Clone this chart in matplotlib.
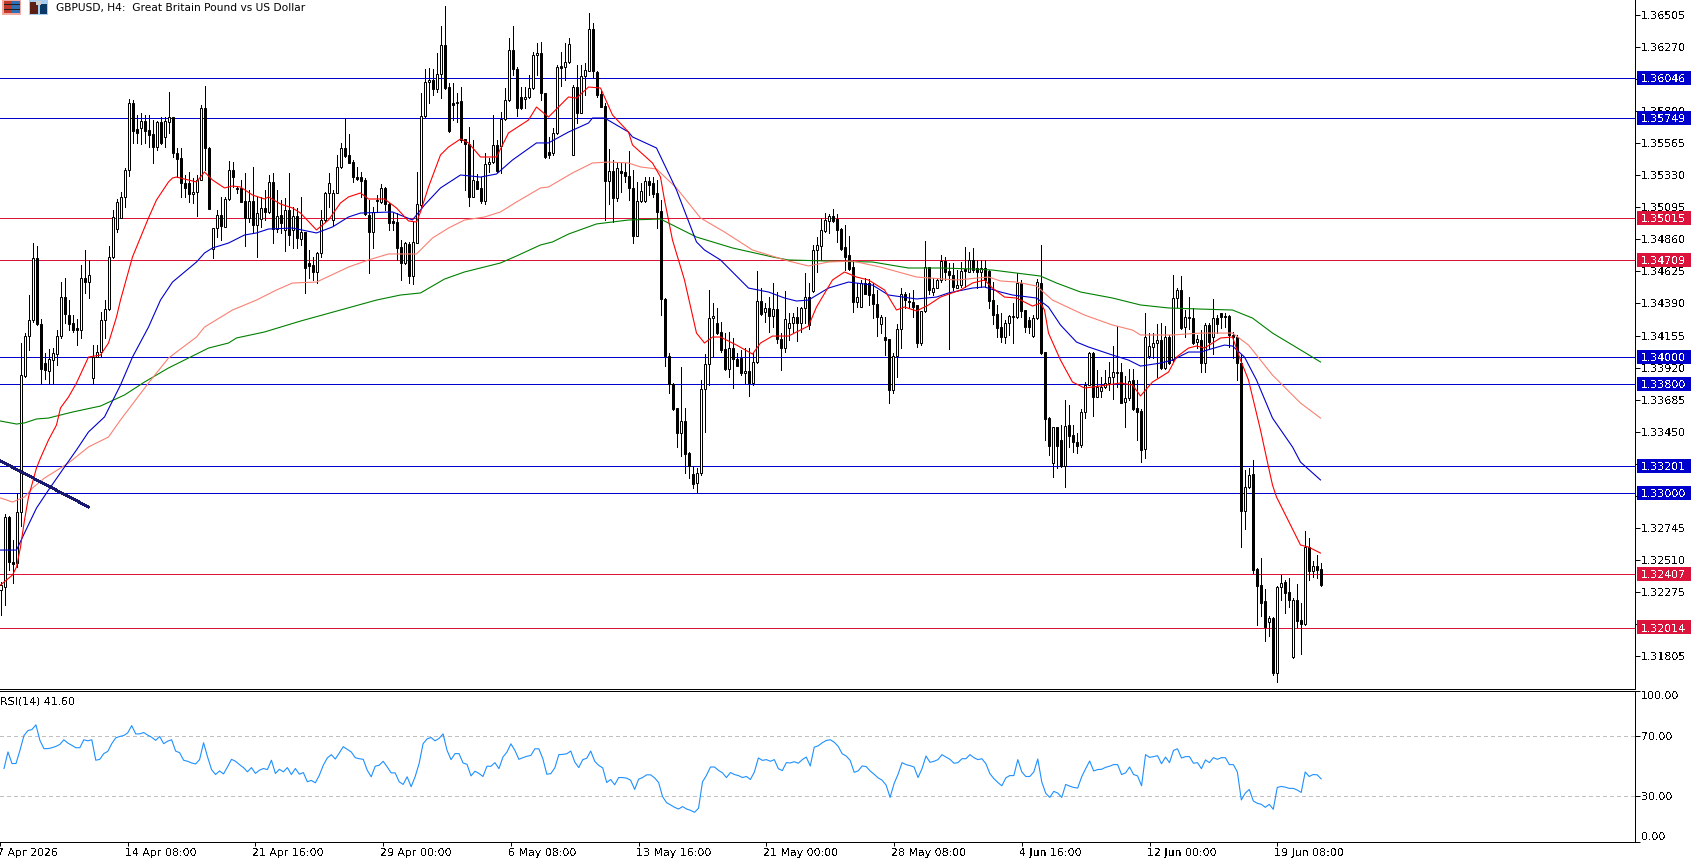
import matplotlib
matplotlib.use('Agg')
import matplotlib.pyplot as plt
from matplotlib.patches import Rectangle
from matplotlib.transforms import ScaledTranslation
import numpy as np

plt.rcParams['font.family'] = 'DejaVu Sans'
plt.rcParams['text.antialiased'] = False

# GBPUSD H4 candles, oldest first
opens = [1.32289,1.32311,1.32824,1.32494,1.32487,1.32861,1.33858,1.34151,1.34269,1.34723,1.34239,1.33953,1.33895,1.33975,1.34019,1.34151,1.34437,1.34305,1.34247,1.34210,1.34195,1.34577,1.34547,1.33844,1.33997,1.34034,1.34269,1.34349,1.34731,1.34936,1.35017,1.35171,1.35369,1.35860,1.35669,1.35677,1.35728,1.35662,1.35633,1.35537,1.35720,1.35611,1.35720,1.35757,1.35493,1.35457,1.35273,1.35273,1.35193,1.35207,1.35295,1.35823,1.35530,1.34789,1.34943,1.35039,1.34951,1.35156,1.35369,1.35237,1.35237,1.35141,1.35017,1.35141,1.34965,1.35009,1.35090,1.35061,1.35281,1.34936,1.35039,1.34929,1.35075,1.34929,1.35031,1.34863,1.34914,1.34687,1.34672,1.34621,1.34760,1.35002,1.35200,1.35002,1.35200,1.35391,1.35530,1.35479,1.35427,1.35317,1.35317,1.35295,1.35039,1.34914,1.35149,1.35134,1.35237,1.35119,1.34995,1.34987,1.34804,1.34687,1.34826,1.34591,1.34833,1.35112,1.35765,1.36014,1.36028,1.35962,1.36072,1.36285,1.35977,1.35860,1.35860,1.35874,1.35596,1.35559,1.35171,1.35288,1.35237,1.35141,1.35413,1.35427,1.35552,1.35545,1.35742,1.35882,1.36248,1.36109,1.35904,1.35889,1.35904,1.35970,1.36212,1.36226,1.35933,1.35501,1.35493,1.35640,1.36131,1.36124,1.36160,1.35479,1.35977,1.35786,1.36058,1.36094,1.36402,1.36087,1.35926,1.35838,1.35288,1.35361,1.35163,1.35361,1.35354,1.35325,1.35237,1.34885,1.35141,1.35141,1.35288,1.35273,1.35200,1.35068,1.34423,1.34005,1.33799,1.33624,1.33440,1.33528,1.33294,1.33140,1.33074,1.33147,1.33763,1.33946,1.34283,1.34247,1.34181,1.34056,1.33909,1.34063,1.33983,1.33990,1.33880,1.33895,1.33807,1.33961,1.34408,1.34327,1.34357,1.34298,1.34349,1.34129,1.34063,1.34210,1.34247,1.34291,1.34247,1.34357,1.34437,1.34481,1.34782,1.34811,1.34921,1.34995,1.35031,1.35009,1.34936,1.34804,1.34745,1.34657,1.34401,1.34364,1.34540,1.34540,1.34459,1.34386,1.34239,1.34144,1.34129,1.33756,1.34005,1.34203,1.34459,1.34408,1.34401,1.34379,1.34100,1.34335,1.34657,1.34474,1.34503,1.34562,1.34701,1.34628,1.34599,1.34503,1.34525,1.34643,1.34621,1.34709,1.34650,1.34621,1.34650,1.34628,1.34415,1.34313,1.34217,1.34144,1.34247,1.34298,1.34291,1.34540,1.34342,1.34269,1.34151,1.34283,1.34540,1.34034,1.33550,1.33220,1.33484,1.33389,1.33198,1.33499,1.33426,1.33374,1.33352,1.33594,1.33792,1.34027,1.33704,1.33748,1.33777,1.33807,1.33851,1.33880,1.33887,1.33668,1.33697,1.33829,1.33624,1.33602,1.33323,1.34005,1.34071,1.34100,1.34122,1.33917,1.34144,1.33975,1.34430,1.34489,1.34217,1.34291,1.34283,1.34107,1.34122,1.33953,1.34232,1.34144,1.34283,1.34320,1.34298,1.34298,1.34159,1.34144,1.33953,1.32868,1.33044,1.33140,1.32443,1.32326,1.32208,1.32054,1.32084,1.31681,1.32311,1.32348,1.32274,1.31798,1.32216,1.32069,1.32040,1.32604,1.32428,1.32465,1.32443]
highs = [1.32348,1.32846,1.32832,1.32656,1.33000,1.34100,1.34173,1.34452,1.34833,1.34811,1.34276,1.34027,1.34056,1.34063,1.34195,1.34547,1.34577,1.34415,1.34305,1.34276,1.34672,1.34782,1.34709,1.34085,1.34085,1.34327,1.34415,1.34811,1.35075,1.35156,1.35207,1.35383,1.35889,1.35882,1.35772,1.35786,1.35772,1.35772,1.35735,1.35728,1.35757,1.35757,1.35940,1.35757,1.35530,1.35530,1.35332,1.35354,1.35310,1.35332,1.35845,1.35984,1.35537,1.34943,1.35075,1.35171,1.35171,1.35435,1.35427,1.35251,1.35295,1.35347,1.35222,1.35391,1.35171,1.35171,1.35222,1.35332,1.35347,1.35222,1.35149,1.35163,1.35347,1.35097,1.35090,1.35171,1.34914,1.34782,1.34731,1.34767,1.35075,1.35207,1.35347,1.35222,1.35479,1.35567,1.35750,1.35633,1.35442,1.35391,1.35354,1.35310,1.35149,1.35097,1.35185,1.35266,1.35244,1.35127,1.35053,1.35053,1.34855,1.34841,1.34841,1.34987,1.35354,1.35933,1.36109,1.36116,1.36109,1.36226,1.36424,1.36571,1.36006,1.36006,1.35933,1.35977,1.35596,1.35684,1.35589,1.35339,1.35317,1.35493,1.35457,1.35772,1.35589,1.35794,1.35970,1.36336,1.36424,1.36124,1.35977,1.35977,1.36065,1.36234,1.36300,1.36307,1.35933,1.35611,1.35677,1.36138,1.36234,1.36300,1.36336,1.35992,1.36138,1.36138,1.36153,1.36520,1.36446,1.36094,1.35955,1.35860,1.35523,1.35442,1.35427,1.35420,1.35420,1.35508,1.35369,1.35281,1.35273,1.35317,1.35317,1.35317,1.35295,1.35149,1.34430,1.34027,1.33807,1.33624,1.33924,1.33624,1.33301,1.33198,1.33184,1.33829,1.34019,1.34489,1.34393,1.34357,1.34254,1.34173,1.34181,1.34137,1.34027,1.34049,1.34063,1.34063,1.34027,1.34628,1.34503,1.34393,1.34437,1.34540,1.34474,1.34173,1.34481,1.34320,1.34320,1.34364,1.34364,1.34613,1.34540,1.34819,1.34877,1.35017,1.35053,1.35046,1.35083,1.35046,1.34943,1.34965,1.34885,1.34709,1.34540,1.34562,1.34577,1.34569,1.34540,1.34489,1.34305,1.34291,1.34129,1.34027,1.34239,1.34503,1.34474,1.34467,1.34489,1.34379,1.34335,1.34848,1.34657,1.34577,1.34577,1.34745,1.34731,1.34687,1.34687,1.34635,1.34694,1.34804,1.34767,1.34797,1.34709,1.34709,1.34709,1.34635,1.34547,1.34379,1.34320,1.34269,1.34305,1.34393,1.34613,1.34562,1.34342,1.34291,1.34305,1.34569,1.34819,1.34034,1.33558,1.33484,1.33484,1.33499,1.33682,1.33646,1.33499,1.33440,1.33616,1.33814,1.34034,1.34034,1.33902,1.33851,1.33902,1.33961,1.34078,1.34225,1.33954,1.33858,1.33910,1.33910,1.33829,1.33616,1.34320,1.34173,1.34173,1.34239,1.34247,1.34225,1.34159,1.34599,1.34503,1.34591,1.34342,1.34437,1.34357,1.34159,1.34195,1.34247,1.34247,1.34423,1.34305,1.34320,1.34320,1.34305,1.34181,1.34159,1.34012,1.33169,1.33184,1.33242,1.32451,1.32524,1.32296,1.32098,1.32091,1.32318,1.32399,1.32362,1.32377,1.32230,1.32333,1.32194,1.32722,1.32670,1.32502,1.32546,1.32487]
lows = [1.32106,1.32179,1.32436,1.32340,1.32458,1.32758,1.33851,1.34049,1.34254,1.34232,1.33799,1.33836,1.33799,1.33799,1.33939,1.34137,1.34247,1.34195,1.34181,1.34085,1.34137,1.34467,1.34430,1.33799,1.33997,1.33997,1.34137,1.34342,1.34723,1.34914,1.35017,1.35097,1.35325,1.35567,1.35567,1.35559,1.35567,1.35537,1.35420,1.35515,1.35559,1.35537,1.35640,1.35464,1.35317,1.35171,1.35171,1.35134,1.35127,1.35031,1.35295,1.35369,1.35083,1.34723,1.34877,1.34855,1.34951,1.35149,1.35244,1.35200,1.35134,1.34811,1.34987,1.34907,1.34731,1.34951,1.35002,1.35053,1.34833,1.34914,1.34907,1.34775,1.34819,1.34797,1.34797,1.34819,1.34467,1.34577,1.34562,1.34540,1.34731,1.34987,1.35097,1.34965,1.35200,1.35383,1.35464,1.35420,1.35281,1.35295,1.35171,1.35039,1.34613,1.34797,1.35068,1.35127,1.35075,1.34929,1.34929,1.34709,1.34562,1.34679,1.34540,1.34533,1.34833,1.35097,1.35757,1.35860,1.35918,1.35940,1.35896,1.35962,1.35647,1.35735,1.35720,1.35574,1.35222,1.35105,1.35171,1.35229,1.35127,1.35119,1.35354,1.35420,1.35354,1.35347,1.35735,1.35874,1.36065,1.35765,1.35816,1.35823,1.35896,1.35962,1.36065,1.35882,1.35457,1.35457,1.35479,1.35633,1.35984,1.36028,1.36153,1.35479,1.35713,1.35786,1.35918,1.36094,1.36050,1.35904,1.35830,1.35002,1.35119,1.34987,1.35141,1.35207,1.35281,1.35149,1.34833,1.34885,1.35134,1.35134,1.35185,1.35171,1.34943,1.34305,1.33931,1.33733,1.33609,1.33338,1.33272,1.33147,1.33110,1.33037,1.33008,1.33132,1.33448,1.33792,1.33997,1.34166,1.34034,1.33902,1.33851,1.33770,1.33931,1.33865,1.33807,1.33711,1.33792,1.33954,1.34305,1.34254,1.34181,1.34217,1.34100,1.33902,1.34034,1.34122,1.34181,1.34115,1.34181,1.34247,1.34203,1.34474,1.34621,1.34709,1.34914,1.34907,1.34987,1.34841,1.34782,1.34635,1.34635,1.34327,1.34364,1.34364,1.34459,1.34379,1.34283,1.34151,1.34173,1.34012,1.33660,1.33733,1.33851,1.34063,1.34357,1.34364,1.34291,1.34071,1.34085,1.34327,1.34459,1.34452,1.34503,1.34547,1.34562,1.34056,1.34489,1.34503,1.34511,1.34511,1.34621,1.34621,1.34503,1.34511,1.34511,1.34357,1.34239,1.34144,1.34107,1.34100,1.34159,1.34100,1.34283,1.34291,1.34181,1.34173,1.34144,1.34276,1.34019,1.33389,1.33279,1.33118,1.33184,1.33191,1.33044,1.33338,1.33301,1.33294,1.33338,1.33550,1.33792,1.33565,1.33704,1.33704,1.33770,1.33755,1.33689,1.33777,1.33660,1.33484,1.33682,1.33609,1.33389,1.33228,1.33257,1.33990,1.33990,1.33851,1.33910,1.33910,1.33946,1.33961,1.34364,1.34203,1.34144,1.34203,1.34093,1.34063,1.33887,1.33887,1.34063,1.34019,1.34173,1.34210,1.34217,1.34071,1.33990,1.33829,1.32604,1.32736,1.33037,1.32414,1.32033,1.32098,1.31915,1.31952,1.31666,1.31615,1.32216,1.32120,1.32164,1.31790,1.32018,1.31820,1.32033,1.32362,1.32384,1.32377,1.32318]
closes = [1.32326,1.32824,1.32494,1.32480,1.32861,1.33865,1.34151,1.34269,1.34723,1.34239,1.33909,1.33902,1.33983,1.34027,1.34151,1.34437,1.34313,1.34239,1.34195,1.34195,1.34577,1.34547,1.34599,1.33997,1.34034,1.34269,1.34349,1.34731,1.35024,1.35134,1.35171,1.35369,1.35860,1.35655,1.35640,1.35728,1.35655,1.35625,1.35537,1.35720,1.35567,1.35728,1.35757,1.35493,1.35449,1.35273,1.35237,1.35193,1.35207,1.35295,1.35823,1.35530,1.35083,1.34943,1.35039,1.34958,1.35156,1.35369,1.35317,1.35229,1.35134,1.35017,1.35141,1.34965,1.35053,1.35090,1.35061,1.35281,1.34936,1.35031,1.34980,1.35075,1.34892,1.35031,1.34870,1.34914,1.34650,1.34665,1.34621,1.34760,1.35002,1.35200,1.35273,1.35200,1.35391,1.35530,1.35471,1.35420,1.35317,1.35303,1.35288,1.35046,1.34914,1.35061,1.35141,1.35237,1.35119,1.34980,1.34980,1.34797,1.34687,1.34833,1.34591,1.34841,1.35119,1.35765,1.36014,1.36028,1.35962,1.36072,1.36285,1.35970,1.35655,1.35845,1.35867,1.35589,1.35559,1.35171,1.35295,1.35229,1.35141,1.35413,1.35427,1.35552,1.35361,1.35742,1.35882,1.36248,1.36109,1.35823,1.35823,1.35904,1.35970,1.36212,1.36226,1.35933,1.35464,1.35479,1.35640,1.36124,1.36116,1.36160,1.36292,1.35977,1.35786,1.36058,1.36102,1.36402,1.36094,1.35918,1.35830,1.35288,1.35361,1.35163,1.35383,1.35347,1.35325,1.35237,1.34885,1.35141,1.35215,1.35288,1.35259,1.35193,1.35061,1.34423,1.34005,1.33799,1.33616,1.33440,1.33528,1.33286,1.33198,1.33066,1.33147,1.33763,1.33946,1.34283,1.34298,1.34173,1.34049,1.33909,1.34063,1.33983,1.33931,1.33880,1.33895,1.33807,1.33961,1.34408,1.34313,1.34357,1.34298,1.34349,1.34129,1.34063,1.34276,1.34247,1.34291,1.34247,1.34357,1.34437,1.34232,1.34782,1.34819,1.34929,1.35002,1.35031,1.34995,1.34929,1.34789,1.34731,1.34643,1.34401,1.34437,1.34540,1.34459,1.34452,1.34386,1.34291,1.34291,1.34122,1.33756,1.34005,1.34203,1.34459,1.34415,1.34401,1.34364,1.34100,1.34335,1.34657,1.34489,1.34503,1.34562,1.34701,1.34621,1.34599,1.34511,1.34525,1.34628,1.34628,1.34709,1.34635,1.34621,1.34650,1.34562,1.34408,1.34305,1.34210,1.34144,1.34247,1.34298,1.34291,1.34540,1.34335,1.34217,1.34217,1.34283,1.34547,1.34027,1.33543,1.33345,1.33484,1.33345,1.33198,1.33492,1.33418,1.33374,1.33345,1.33594,1.33792,1.34027,1.33704,1.33777,1.33777,1.33807,1.33851,1.33887,1.33887,1.33660,1.33697,1.33822,1.33616,1.33594,1.33316,1.34144,1.34078,1.34100,1.34122,1.33917,1.34144,1.33953,1.34430,1.34489,1.34210,1.34291,1.34283,1.34100,1.34129,1.33953,1.34232,1.34107,1.34283,1.34239,1.34291,1.34291,1.34159,1.34144,1.33953,1.32868,1.33044,1.33132,1.32436,1.32318,1.32194,1.32018,1.32084,1.31681,1.32311,1.32340,1.32267,1.32216,1.32216,1.32062,1.32040,1.32604,1.32428,1.32465,1.32436,1.32326]

# moving averages, read at the bar index listed with each one
ma_red_bars = [0,3,4,5,6,7,9,10,12,14,15,17,19,22,25,27,29,30,33,37,39,42,43,44,47,49,51,53,56,58,60,63,66,67,70,73,75,79,82,85,87,90,92,96,99,102,104,105,107,110,112,115,117,120,124,127,132,134,137,142,144,147,150,153,157,158,163,165,166,168,171,174,176,178,180,184,188,190,193,197,202,204,208,211,214,217,221,224,226,229,232,235,240,243,246,248,251,254,258,260,261,262,265,268,271,275,280,283,285,288,292,294,297,299,301,305,308,310,312,315,317,318,319,325,327,330]
ma_red = [1.32326,1.32399,1.32458,1.32604,1.32802,1.32971,1.33184,1.33257,1.33389,1.33499,1.33624,1.33704,1.33807,1.33997,1.34012,1.34100,1.34291,1.34415,1.34731,1.35017,1.35149,1.35281,1.35310,1.35317,1.35295,1.35281,1.35354,1.35295,1.35237,1.35251,1.35244,1.35185,1.35156,1.35171,1.35119,1.35090,1.35053,1.34929,1.35002,1.35127,1.35171,1.35200,1.35156,1.35156,1.35090,1.34995,1.34987,1.35061,1.35244,1.35479,1.35537,1.35596,1.35567,1.35464,1.35464,1.35640,1.35735,1.35830,1.35757,1.35904,1.35896,1.35977,1.35970,1.35772,1.35647,1.35552,1.35420,1.35317,1.35149,1.34855,1.34562,1.34173,1.34100,1.34144,1.34144,1.34085,1.34019,1.34100,1.34151,1.34151,1.34225,1.34364,1.34562,1.34621,1.34584,1.34562,1.34489,1.34342,1.34364,1.34335,1.34379,1.34437,1.34489,1.34540,1.34562,1.34503,1.34437,1.34430,1.34371,1.34393,1.34342,1.34173,1.33975,1.33814,1.33770,1.33785,1.33807,1.33792,1.33712,1.33814,1.33887,1.33997,1.34063,1.34078,1.34063,1.34137,1.34144,1.33975,1.33829,1.33462,1.33191,1.33059,1.32971,1.32619,1.32604,1.32560]
ma_blue_bars = [0,4,6,9,12,16,19,22,26,30,33,37,40,43,49,51,53,57,61,64,67,73,79,83,87,90,98,103,106,110,115,120,124,128,134,137,142,147,148,151,157,158,164,169,174,176,180,187,192,196,199,202,207,212,218,222,229,234,237,243,246,250,253,259,262,265,269,272,278,282,285,290,293,297,300,306,308,311,314,318,323,325,330]
ma_blue = [1.32582,1.32582,1.32707,1.32890,1.33022,1.33191,1.33316,1.33448,1.33558,1.33792,1.33997,1.34217,1.34415,1.34547,1.34694,1.34760,1.34797,1.34833,1.34892,1.34907,1.34936,1.34943,1.34907,1.34951,1.35024,1.35053,1.35061,1.35002,1.35112,1.35237,1.35332,1.35317,1.35339,1.35442,1.35567,1.35567,1.35647,1.35713,1.35750,1.35750,1.35647,1.35611,1.35530,1.35222,1.34841,1.34782,1.34709,1.34503,1.34474,1.34430,1.34408,1.34415,1.34503,1.34547,1.34525,1.34452,1.34423,1.34437,1.34467,1.34503,1.34511,1.34474,1.34452,1.34430,1.34364,1.34232,1.34107,1.34071,1.34012,1.33975,1.33931,1.33953,1.33975,1.34034,1.34034,1.34085,1.34078,1.33997,1.33829,1.33550,1.33338,1.33227,1.33096]
ma_salmon_bars = [0,3,6,8,11,17,22,27,30,37,42,49,51,58,64,69,73,79,87,92,97,104,108,112,116,121,125,129,135,137,143,148,152,157,160,164,169,175,181,188,197,202,207,213,220,229,239,247,250,254,259,263,271,278,283,285,293,300,308,312,318,325,330]
ma_salmon = [1.32964,1.32934,1.32971,1.33037,1.33110,1.33220,1.33338,1.33411,1.33536,1.33807,1.33990,1.34144,1.34217,1.34342,1.34415,1.34489,1.34540,1.34547,1.34657,1.34709,1.34753,1.34753,1.34870,1.34943,1.35002,1.35024,1.35061,1.35134,1.35237,1.35244,1.35347,1.35420,1.35427,1.35420,1.35391,1.35376,1.35237,1.35017,1.34914,1.34782,1.34701,1.34665,1.34694,1.34701,1.34657,1.34584,1.34562,1.34584,1.34555,1.34547,1.34518,1.34415,1.34305,1.34232,1.34195,1.34159,1.34159,1.34173,1.34173,1.34085,1.33865,1.33660,1.33550]
ma_green_bars = [0,4,6,9,12,18,25,31,36,42,47,52,57,59,66,75,94,100,105,111,116,125,129,135,138,142,149,157,165,174,183,193,197,207,218,227,235,243,248,260,264,270,278,285,292,300,308,313,318,323,330]
ma_green = [1.33528,1.33506,1.33514,1.33543,1.33550,1.33594,1.33638,1.33719,1.33814,1.33917,1.33990,1.34063,1.34100,1.34137,1.34181,1.34261,1.34415,1.34452,1.34467,1.34569,1.34621,1.34687,1.34738,1.34819,1.34841,1.34899,1.34973,1.35002,1.35009,1.34877,1.34797,1.34731,1.34709,1.34701,1.34694,1.34650,1.34650,1.34643,1.34635,1.34591,1.34540,1.34474,1.34430,1.34379,1.34357,1.34349,1.34342,1.34283,1.34173,1.34085,1.33961]

rsi_values = [48.5,59.5,51.8,51.8,60.6,70.4,73.7,74.4,77.5,67.2,61.7,61.7,62.3,63.2,64.5,67.6,65.4,63.9,62.3,62.3,67.6,66.9,67.6,54.0,54.6,58.4,59.9,65.0,68.9,69.8,70.4,72.2,77.0,71.5,71.5,72.4,70.7,69.3,67.2,69.8,65.0,66.7,67.6,60.1,59.0,54.0,53.3,52.2,51.5,54.4,65.6,56.2,47.8,44.5,46.9,44.9,49.6,54.6,53.3,51.1,49.1,46.3,49.1,45.2,47.4,48.5,47.8,54.0,45.2,48.0,46.3,49.1,44.5,48.5,44.7,45.8,39.7,40.6,39.0,44.0,50.7,55.5,57.7,54.8,58.8,63.0,61.2,59.5,55.7,55.0,54.6,47.4,43.0,50.0,50.7,53.3,49.6,45.6,45.6,39.7,37.9,43.0,36.4,43.0,51.8,65.0,68.2,69.1,66.9,68.5,71.5,60.6,54.4,58.4,58.4,52.2,51.3,43.6,46.7,45.2,43.2,50.0,50.0,52.4,48.4,56.1,59.4,64.9,60.5,54.6,55.7,56.6,57.2,61.6,61.6,55.0,44.7,45.1,48.9,57.7,57.9,58.3,60.1,52.8,49.1,54.4,55.3,60.1,53.3,50.6,48.9,39.2,41.2,37.7,42.5,42.5,42.1,40.7,34.6,41.4,42.5,44.3,44.3,42.3,39.2,29.8,25.8,24.3,22.7,21.6,23.2,21.6,20.7,19.4,22.1,39.6,44.0,49.5,49.5,47.3,45.6,42.5,45.8,44.5,43.8,42.5,43.2,41.2,46.2,55.5,53.9,54.4,53.3,54.4,48.4,47.1,52.4,52.2,53.0,52.0,54.4,56.1,50.2,62.7,63.6,65.6,67.1,67.6,66.0,63.2,58.3,56.8,53.9,46.0,46.9,50.2,49.8,46.9,44.7,42.3,40.7,37.5,29.3,38.5,44.7,52.4,51.1,50.4,49.5,42.5,48.4,56.8,52.6,53.3,54.4,57.7,56.1,54.6,52.0,52.4,55.0,55.0,57.7,55.7,54.4,55.0,51.7,45.1,41.8,39.2,37.0,42.3,43.8,43.8,54.4,46.2,43.2,43.2,46.2,54.8,39.6,32.0,29.3,33.3,32.2,29.3,37.9,36.8,35.9,35.5,43.0,48.4,53.5,46.9,47.8,48.0,49.3,50.0,51.1,51.1,44.5,45.6,49.5,44.5,43.6,37.0,57.7,55.9,56.4,57.0,51.7,56.1,52.4,60.5,61.6,55.5,56.4,56.4,52.0,52.4,48.4,54.2,52.4,55.7,54.6,55.7,55.7,51.1,51.1,46.2,27.6,32.2,34.6,26.9,25.4,24.7,22.7,24.7,21.4,35.9,36.6,36.1,35.3,35.3,34.2,32.6,46.2,43.2,44.5,44.3,41.6]

level_prices = [1.36046,1.35749,1.35015,1.34709,1.34000,1.33800,1.33201,1.33000,1.32407,1.32014]
level_colors = ['#0000CD','#0000CD','#DC143C','#DC143C','#0000CD','#0000CD','#0000CD','#0000CD','#DC143C','#DC143C']

trend_bars = [0,22]
trend_prices = [1.33235,1.32898]

price_ticks = [1.36505,1.36270,1.36035,1.35800,1.35565,1.35330,1.35095,1.34860,1.34625,1.34390,1.34155,1.33920,1.33685,1.33450,1.33215,1.32980,1.32745,1.32510,1.32275,1.32040,1.31805]
# these sit wholly behind a value flag
hidden_ticks = [1.33215,1.32040,1.36035]
rsi_ticks = [100,70,30,0]
date_ticks = [-1,31,63,95,127,159,191,223,255,287,319]
date_labels = ['7 Apr 2026','14 Apr 08:00','21 Apr 16:00','29 Apr 00:00','6 May 08:00','13 May 16:00','21 May 00:00','28 May 08:00','4 Jun 16:00','12 Jun 00:00','19 Jun 08:00']

W, H = 1694, 864
FS = 7.9
PX = 0.72  # one pixel in points at dpi 100
THIN = 0.8  # curve width


def px_axes(fig, left, top, right, bottom):
    return fig.add_axes([left / W, 1 - bottom / H, (right - left) / W, (bottom - top) / H])


fig = plt.figure(figsize=(W / 100, H / 100), dpi=100, facecolor='white')
ax = px_axes(fig, 0, 0, 1634.5, 688.5)
ax_rsi = px_axes(fig, 0, 691, 1634.5, 841.5)

bars = np.arange(len(opens))
opens_a, highs_a, lows_a, closes_a = map(np.array, (opens, highs, lows, closes))
up = closes_a >= opens_a

# level lines go under the candles
for price, color in zip(level_prices, level_colors):
    ax.axhline(price, color=color, lw=PX, antialiased=False, zorder=1)

ax.vlines(bars, lows_a, highs_a, color='black', lw=PX, antialiased=False, zorder=2)
ax.bar(bars[up], (closes_a - opens_a)[up], bottom=opens_a[up], width=0.5,
       facecolor='white', edgecolor='black', lw=PX, zorder=3)
ax.bar(bars[~up], (opens_a - closes_a)[~up], bottom=closes_a[~up], width=0.5,
       facecolor='black', edgecolor='black', lw=PX, zorder=3)

ax.plot(ma_green_bars, ma_green, color='#008000', lw=THIN, zorder=4)
ax.plot(ma_salmon_bars, ma_salmon, color='#FA8072', lw=THIN, zorder=4)
ax.plot(ma_blue_bars, ma_blue, color='#0000CD', lw=THIN, zorder=4)
ax.plot(ma_red_bars, ma_red, color='#FF0000', lw=THIN, zorder=4)
ax.plot(trend_bars, trend_prices, color='#191970', lw=1.3, antialiased=False, zorder=4)

ax.set_xlim(-0.125, 408.5)
ax.set_ylim(1.31567, 1.36615)
ax.yaxis.tick_right()
ax.set_yticks(price_ticks)
ax.set_yticklabels(['' if p in hidden_ticks else f'{p:.5f}' for p in price_ticks], fontsize=FS)
ax.tick_params(axis='y', length=3.6, width=PX, pad=1)
ax.set_xticks([])

# value flags on the price scale
for price, color in zip(level_prices, level_colors):
    ax.add_patch(Rectangle((1637 / 1634.5, price - 0.00051), 54 / 1634.5, 0.00103,
                           transform=ax.get_yaxis_transform(), facecolor=color,
                           edgecolor='none', clip_on=False, zorder=6))
    ax.text(1640.5 / 1634.5, price, f'{price:.5f}', transform=ax.get_yaxis_transform(),
            color='white', fontsize=FS, va='center_baseline', ha='left', zorder=7)

ax_rsi.axhline(70, color='#C0C0C0', lw=PX, dashes=(4, 4), antialiased=False)
ax_rsi.axhline(30, color='#C0C0C0', lw=PX, dashes=(4, 4), antialiased=False)
ax_rsi.plot(bars, rsi_values, color='#1E90FF', lw=THIN)
ax_rsi.set_xlim(-0.125, 408.5)
ax_rsi.set_ylim(0, 100)
ax_rsi.yaxis.tick_right()
ax_rsi.set_yticks(rsi_ticks)
ax_rsi.set_yticklabels([f'{v:.2f}' for v in rsi_ticks], fontsize=FS)
ax_rsi.tick_params(axis='y', length=3.6, width=PX, pad=1)
for lab, v in zip(ax_rsi.get_yticklabels(), rsi_ticks):
    if v == 100:
        lab.set_va('top')
    elif v == 0:
        lab.set_va('bottom')
ax_rsi.set_xticks(date_ticks)
ax_rsi.set_xticklabels(date_labels, fontsize=FS, ha='left')
ax_rsi.tick_params(axis='x', length=3, width=PX, pad=2)
shift = ScaledTranslation(-3 / 100, 0, fig.dpi_scale_trans)
for lab in ax_rsi.get_xticklabels():
    lab.set_transform(lab.get_transform() + shift)

for a in (ax, ax_rsi):
    a.spines['left'].set_visible(False)
    a.spines['top'].set_visible(a is ax_rsi)
    for s in a.spines.values():
        s.set_linewidth(PX)

# header overlay in pixel coordinates
top = fig.add_axes([0, 0, 1, 1], facecolor='none', zorder=10)
top.set_xlim(0, W)
top.set_ylim(H, 0)
top.axis('off')
top.text(55.5, 8.5, 'GBPUSD, H4:  Great Britain Pound vs US Dollar', fontsize=7.7,
         va='center', ha='left', antialiased=True)
top.text(0, 701.5, 'RSI(14) 41.60', fontsize=FS, va='center', ha='left')
for x, y, w, h, c in [(2, 0, 19, 15, '#F4A9A0'), (4, 1, 8, 12, '#C03A2B'), (12, 1, 8, 12, '#2F6FB5'),
                      (4, 4, 16, 1, '#202020'), (4, 9, 16, 1, '#202020'),
                      (29, 0, 19, 15, '#A9CDF0'), (30, 2, 8, 12, '#5C1F16'), (40, 4, 7, 10, '#0C3A66'),
                      (36, 1, 5, 4, '#D0D0D0')]:
    top.add_patch(Rectangle((x, y), w, h, facecolor=c, edgecolor='none'))

fig.savefig('out.png', dpi=100, facecolor='white')
